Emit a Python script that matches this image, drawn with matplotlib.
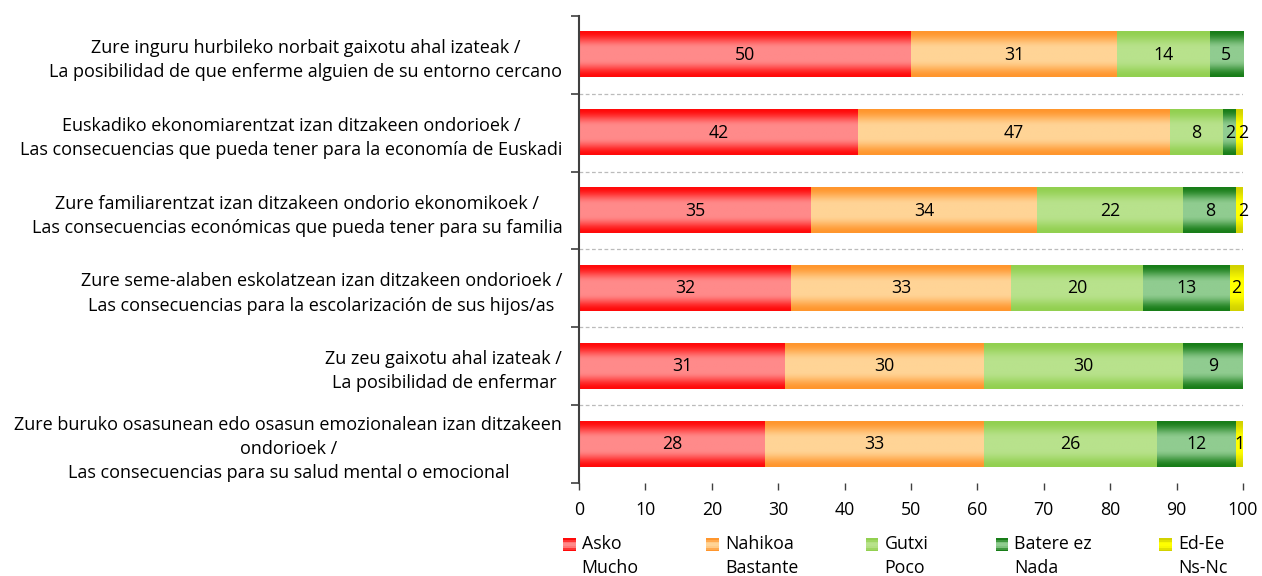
import numpy as np
import matplotlib
matplotlib.use("Agg")
import matplotlib.pyplot as plt
from matplotlib.patches import Rectangle
from matplotlib.legend_handler import HandlerBase

plt.rcParams['font.family'] = ['Open Sans', 'DejaVu Sans']

categories = [
    "Zure inguru hurbileko norbait gaixotu ahal izateak /\nLa posibilidad de que enferme alguien de su entorno cercano",
    "Euskadiko ekonomiarentzat izan ditzakeen ondorioek /\nLas consecuencias que pueda tener para la economía de Euskadi",
    "Zure familiarentzat izan ditzakeen ondorio ekonomikoek /\nLas consecuencias económicas que pueda tener para su familia",
    "Zure seme-alaben eskolatzean izan ditzakeen ondorioek /\nLas consecuencias para la escolarización de sus hijos/as",
    "Zu zeu gaixotu ahal izateak /\nLa posibilidad de enfermar",
    "Zure buruko osasunean edo osasun emozionalean izan ditzakeen\nondorioek /\nLas consecuencias para su salud mental o emocional",
]
series_names = ["Asko\nMucho", "Nahikoa\nBastante", "Gutxi\nPoco", "Batere ez\nNada", "Ed-Ee\nNs-Nc"]
asko = [50, 42, 35, 32, 31, 28]
nahikoa = [31, 47, 34, 33, 30, 33]
gutxi = [14, 8, 22, 20, 30, 26]
batere = [5, 2, 8, 13, 9, 12]
ed_ee = [0, 2, 2, 2, 0, 1]
x_ticks = [0, 10, 20, 30, 40, 50, 60, 70, 80, 90, 100]

# (edge colour, centre colour) for the vertical gradient
grad_colors = [
    ((255, 10, 10), (255, 138, 138)),
    ((255, 150, 45), (255, 212, 150)),
    ((146, 208, 80), (184, 226, 140)),
    ((24, 125, 24), (144, 204, 144)),
    ((210, 210, 0), (255, 255, 0)),
]

def gradient_image(edge, center, n=64):
    y = np.linspace(0, 1, n)
    t = 1 - np.abs(2 * y - 1)
    t = np.clip(t / 0.75, 0, 1)
    t = t * t * (3 - 2 * t)
    e = np.array(edge) / 255.0
    c = np.array(center) / 255.0
    col = e[None, :] * (1 - t[:, None]) + c[None, :] * t[:, None]
    return col[:, None, :]

fig = plt.figure(figsize=(12.62, 5.76), dpi=100)
ax = fig.add_axes([579 / 1262, 1 - 483 / 576, (1243 - 579) / 1262, (483 - 16) / 576])

data = [asko, nahikoa, gutxi, batere, ed_ee]
ypos = np.arange(len(categories))
left = np.zeros(len(categories))
fs = 12.8
for s, vals in enumerate(data):
    vals = np.array(vals, dtype=float)
    bars = ax.barh(ypos, vals, left=left, height=0.58, color='none', edgecolor='none', zorder=2)
    img = gradient_image(*grad_colors[s])
    for b, v in zip(bars, vals):
        if v <= 0:
            continue
        x0, y0 = b.get_x(), b.get_y()
        w, h = b.get_width(), b.get_height()
        ax.imshow(img, extent=(x0, x0 + w, y0 + h, y0), aspect='auto', zorder=2,
                  interpolation='bilinear')
        ax.text(x0 + w / 2, y0 + h / 2, f"{int(v)}", ha='center', va='center',
                fontsize=fs, color='black', zorder=4)
    left = left + vals

ax.set_xlim(0, 100)
ax.set_ylim(len(categories) - 0.5, -0.5)
ax.set_yticks(ypos)
ax.set_yticklabels(categories, fontsize=13.0, multialignment='center', linespacing=1.44)
ax.tick_params(axis='y', which='major', length=0, pad=12)
ax.set_yticks(np.arange(-0.5, len(categories), 1.0), minor=True)
ax.tick_params(axis='y', which='minor', length=6, width=1.2, color='#404040', direction='out')
ax.set_xticks(x_ticks)
ax.tick_params(axis='x', length=5, width=1, color='#404040', labelsize=fs, pad=8)
for sp in ['top', 'right', 'bottom']:
    ax.spines[sp].set_visible(False)
ax.spines['left'].set_color('#404040')
ax.spines['left'].set_linewidth(1.5)
for yb in np.arange(0.5, len(categories) - 1, 1.0):
    ax.axhline(yb, color='#bbbbbb', linestyle=(0, (3, 2)), linewidth=0.9, zorder=1)


class GradHandler(HandlerBase):
    def __init__(self, edge, center):
        super().__init__()
        self.edge = edge
        self.center = center

    def create_artists(self, legend, orig_handle, xdescent, ydescent, width, height, fontsize, trans):
        img = gradient_image(self.edge, self.center, n=8)[:, 0, :]
        size = fontsize * 0.72
        x0 = -xdescent + (width - size) / 2
        y0 = -ydescent + height - size * 0.3 + 2.2
        arts = []
        n = img.shape[0]
        for i in range(n):
            r = Rectangle((x0, y0 + size * i / n), size, size / n + 0.3, facecolor=img[i],
                          edgecolor='none', transform=trans)
            arts.append(r)
        return arts


handles = [Rectangle((0, 0), 1, 1) for _ in series_names]
hmap = {h: GradHandler(*grad_colors[i]) for i, h in enumerate(handles)}
leg = fig.legend(handles, series_names, loc='upper left', bbox_to_anchor=(562 / 1262, 1 - 535 / 576),
                 ncol=5, frameon=False, fontsize=fs, handler_map=hmap, handlelength=0.8,
                 handletextpad=0.3, columnspacing=3.75, borderaxespad=0, borderpad=0)
for t in leg.get_texts():
    t.set_linespacing(1.4)

fig.savefig("out.png", dpi=100)
